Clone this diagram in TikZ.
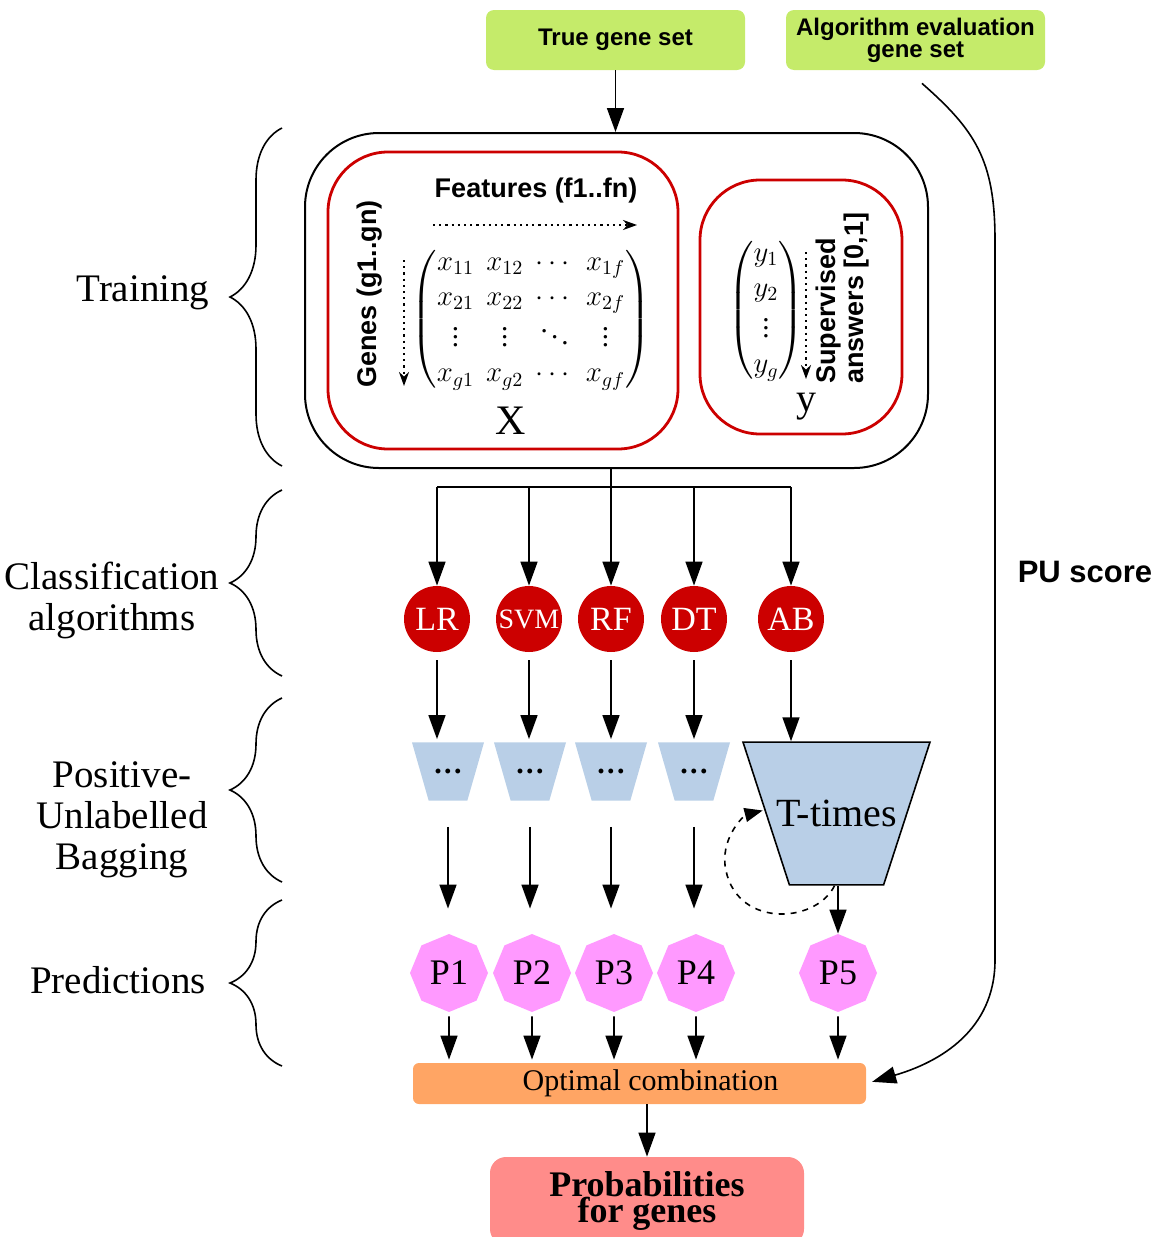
\documentclass[tikz,border=0pt]{standalone}
\usepackage{amsmath}
\usepackage{fontspec}
\setmainfont{Liberation Serif}
\setsansfont{Liberation Sans}
\usetikzlibrary{arrows.meta,shapes.geometric,decorations.pathreplacing}

\definecolor{genegreen}{RGB}{197,235,106}
\definecolor{algred}{RGB}{204,0,0}
\definecolor{bagblue}{RGB}{185,207,231}
\definecolor{predpink}{RGB}{255,153,255}
\definecolor{comborange}{RGB}{255,165,100}
\definecolor{probred}{RGB}{255,140,138}

\tikzset{
	geneset/.style={fill=genegreen, rounded corners=4pt, minimum width=129.5pt, minimum height=30pt, align=center, font=\sffamily\bfseries\fontsize{12}{11}\selectfont},
	redbox/.style={draw=algred, line width=1.4pt, rounded corners=30pt},
	lab/.style={font=\sffamily\bfseries\fontsize{13.5}{14}\selectfont},
	mat/.style={font=\fontsize{14.5}{17.5}\selectfont},
	alg/.style={circle, fill=algred, text=white, minimum size=33pt, inner sep=0pt, font=\fontsize{17}{17}\selectfont},
	bag/.style={trapezium, shape border rotate=180, trapezium stretches body=true, trapezium left angle=74, trapezium right angle=74, fill=bagblue, inner xsep=0pt, inner ysep=13.3pt, minimum width=36pt, font=\bfseries\fontsize{15}{15}\selectfont},
	pred/.style={regular polygon, regular polygon sides=8, shape border rotate=22.5, fill=predpink, minimum size=39pt, inner sep=0pt, font=\fontsize{18}{18}\selectfont},
	side/.style={align=center, font=\fontsize{19.5}{20.5}\selectfont},
	arr/.style={line width=0.8pt, -{Triangle[length=12pt,width=8.5pt]}},
	dotarr/.style={line width=1.1pt, dotted, -{Stealth[length=7pt,width=5pt]}},
	grp/.style={decorate, decoration={brace, amplitude=26pt}, line width=0.8pt},
}

\begin{document}
\begin{tikzpicture}[x=0.5pt, y=-0.5pt]	%one unit = one pixel of the layout
	\def\ar{619}	%row of the algorithms
	\def\pr{973}	%row of the predictions
	\useasboundingbox (0,0) rectangle (1162,1237);
	
	\node[geneset] (true) at (615.5,40) {True gene set};
	\node[geneset] (eval) at (915.5,40) {Algorithm evaluation\\gene set};
	
	%training block
	\node[draw, line width=1pt, rounded corners=37pt, minimum width=311.5pt, minimum height=167.5pt] (train) at (616.5,300.5) {};
	\node[redbox, minimum width=175pt, minimum height=148.5pt] (xbox) at (503,300.5) {};
	\node[redbox, minimum width=101pt, minimum height=127pt] (ybox) at (801,307) {};
	
	\node[lab] (feat) at (536,191) {Features (f1..fn)};
	\coordinate (f0) at (433,225);
	\coordinate (f1) at (637,225);
	\draw[dotarr] (f0) -- (f1);
	\node[lab, rotate=90] (genes) at (370,294) {Genes (g1..gn)};
	\coordinate (g0) at (404,260);
	\coordinate (g1) at (404,386);
	\draw[dotarr] (g0) -- (g1);
	\node[mat] (xmat) at (531,319) {\setlength{\arraycolsep}{3pt}$\begin{pmatrix}
		x_{11} & x_{12} & \cdots & x_{1f}\\
		x_{21} & x_{22} & \cdots & x_{2f}\\
		\vdots & \vdots & \ddots & \vdots\\
		x_{g1} & x_{g2} & \cdots & x_{gf}
	\end{pmatrix}$};
	\node[font=\fontsize{21}{21}\selectfont] (xlab) at (511,421) {X};
	
	\node[mat] (yvec) at (766,310) {$\begin{pmatrix} y_1\\ y_2\\ \vdots\\ y_g \end{pmatrix}$};
	\coordinate (s0) at (806,252);
	\coordinate (s1) at (806,379);
	\draw[dotarr] (s0) -- (s1);
	\node[lab, rotate=90, align=left] (sup) at (843,298) {Supervised\\answers [0,1]};
	\node[font=\fontsize{20}{20}\selectfont] (ylab) at (806,407) {y};
	
	\draw[arr] (true.south) -- (true.south |- train.north);
	
	%algorithms
	\foreach \nm/\lbl/\x in {lr/LR/437, svm/{\fontsize{14}{14}\selectfont SVM}/529, rf/RF/611, dt/DT/694, ab/AB/791}
		\node[alg] (\nm) at (\x,\ar) {\lbl};
	\coordinate (bus) at (611,487);
	\draw[line width=0.8pt] (lr |- bus) -- (ab |- bus);
	\draw[arr] (train.south -| rf) -- (rf);
	\foreach \nm in {lr,svm,dt,ab}
		\draw[arr] (\nm |- bus) -- (\nm);
	
	%bagging
	\foreach \i/\x in {1/448, 2/530, 3/611, 4/694}
		\node[bag] (bag\i) at (\x,771.5) {.\kern1.2pt.\kern1.2pt.};
	\node[bag, draw, line width=0.8pt, trapezium left angle=72, trapezium right angle=72, inner ysep=29pt, minimum width=93.5pt, font=\fontsize{20}{20}\selectfont] (ttimes) at (836.5,813.5) {\makebox[47pt][c]{T-times}};
	\foreach \a/\b in {lr/bag1, svm/bag2, rf/bag3, dt/bag4}
		\draw[arr, shorten <=4pt, shorten >=1.5pt] (\a) -- (\a |- \b.north);
	\draw[arr, shorten <=4pt] (ab) -- (ab |- ttimes.north);
	\draw[line width=0.8pt, dashed, -{Triangle[length=9pt,width=7pt]}, shorten >=2pt] ([xshift=-1pt]ttimes.south) .. controls (815,925) and (733,928) .. (725,865) .. controls (722,835) and (745,815) .. ([xshift=-35pt,yshift=2pt]ttimes.center);	%T-times loop
	
	%predictions
	\foreach \i/\x in {1/449, 2/532, 3/614, 4/696, 5/838}
		\node[pred] (p\i) at (\x,\pr) {P\i};
	\foreach \i in {1,...,4}
		\draw[arr, shorten <=13pt, shorten >=12.5pt] (bag\i.south) -- (bag\i.south |- p\i.north);
	\draw[arr] (ttimes.south -| p5.north) -- (p5.north);
	
	\node[fill=comborange, rounded corners=3pt, minimum width=226.5pt, minimum height=20.5pt, font=\fontsize{15}{15}\selectfont] (combo) at (639.5,1083.5) {\hspace{11pt}Optimal combination};
	\foreach \i in {1,...,5}
		\draw[arr, shorten <=2pt, shorten >=1.5pt] (p\i) -- (p\i |- combo.north);
	\node[fill=probred, rounded corners=8pt, minimum width=157pt, minimum height=44pt, align=center, font=\bfseries\fontsize{18}{13}\selectfont] (prob) at (647,1201) {Probabilities\\for genes};
	\draw[arr] (combo.south -| prob.north) -- (prob.north);
	
	%PU score path
	\node[font=\sffamily\bfseries\fontsize{15.5}{16}\selectfont] (pu) at (1085,572) {PU score};
	\draw[arr, shorten >=3pt] ([shift={(6.5,13)}]eval.south) .. controls (975,130) and (995,160) .. (995,240) -- (995,960) .. controls (995,1030) and (940,1062) .. (combo.east);
	
	%stages
	\foreach \a/\b in {128/466, 490/676, 698/882, 900/1066}
		\draw[grp] (282,\b) -- (282,\a);
	\node[side] (lt) at (143,293) {Training};
	\node[side] (lc) at (112,600) {Classification\\algorithms};
	\node[side] (lb) at (122,820) {Positive-\\Unlabelled\\Bagging};
	\node[side] (lp) at (118,980) {Predictions};
\end{tikzpicture}
\end{document}
